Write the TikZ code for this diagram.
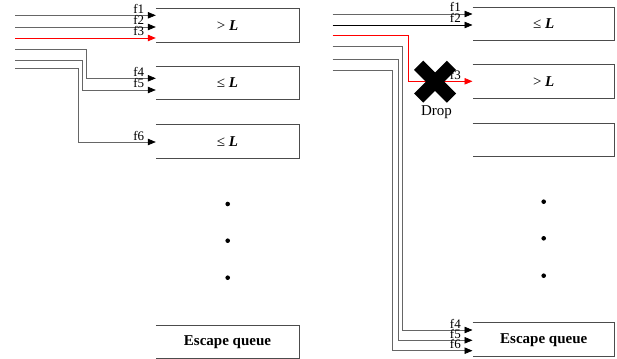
\documentclass[tikz,border=0pt]{standalone}
\usepackage{fontspec}
\setmainfont{Liberation Serif}
\usetikzlibrary{arrows.meta,calc}
\begin{document}
\begin{tikzpicture}[x=1pt,y=-1pt,
  qbox/.style={minimum width=143pt,minimum height=33pt,inner sep=0pt,font=\fontsize{15}{17}\selectfont},
  qline/.style={draw=black!70,line width=0.9pt},
  flow/.style={draw=black!60,line width=0.7pt,-{Triangle[length=8pt,width=6.5pt,color=black]}},
  blackflow/.style={flow,draw=black},
  redflow/.style={draw=red,line width=0.8pt,-{Triangle[length=8pt,width=6.5pt,color=red]}},
  lbl/.style={font=\fontsize{13}{14}\selectfont,anchor=base east,inner sep=0pt},
  dot/.style={circle,fill=black,inner sep=0pt,minimum size=4.6pt},
  xarm/.style={line width=13pt,draw=black}
]
\useasboundingbox (0,0) rectangle (617,358);

% ---------- left panel ----------
\node[qbox] (L1) at (227.5,25.5) {> \textbf{\textit{L}}};
\node[qbox] (L2) at (227.5,83) {≤ \textbf{\textit{L}}};
\node[qbox] (L3) at (227.5,141.3) {≤ \textbf{\textit{L}}};
\node[qbox] (LE) at (227.5,342.2) {\textbf{Escape queue}};
\foreach \b in {L1,L2,L3,LE}{
  \draw[qline] (\b.north west) -- (\b.north east) -- (\b.south east) -- (\b.south west);
}
\node[dot] (ld1) at (227.7,204) {};
\node[dot] (ld2) at (227.7,240.7) {};
\node[dot] (ld3) at (227.7,277.7) {};

\coordinate (s1) at (15,15.3);
\coordinate (s2) at (15,27);
\coordinate (s3) at (15,38);
\coordinate (s4) at (15,49.3);
\coordinate (s5) at (15,60.7);
\coordinate (s6) at (15,68.7);
\coordinate (le1) at ([yshift=10.2pt]L1.west);
\coordinate (le2) at ([yshift=-1.5pt]L1.west);
\coordinate (le3) at ([yshift=-12.5pt]L1.west);
\coordinate (le4) at ([yshift=4.7pt]L2.west);
\coordinate (le5) at ([yshift=-7pt]L2.west);
\coordinate (le6) at ([yshift=-0.7pt]L3.west);

\draw[flow] (s1) -- (le1);
\draw[flow] (s2) -- (le2);
\draw[redflow] (s3) -- (le3);
\draw[flow] (s4) -| ([xshift=-69.3pt]le4) -- (le4);
\draw[flow] (s5) -| ([xshift=-73.3pt]le5) -- (le5);
\draw[flow] (s6) -| ([xshift=-77.7pt]le6) -- (le6);
\node[lbl] (lf1) at ([xshift=-11.5pt,yshift=2pt]le1) {f1};
\node[lbl] (lf2) at ([xshift=-11.5pt,yshift=2pt]le2) {f2};
\node[lbl] (lf3) at ([xshift=-11.5pt,yshift=2pt]le3) {f3};
\node[lbl] (lf4) at ([xshift=-11.5pt,yshift=2pt]le4) {f4};
\node[lbl] (lf5) at ([xshift=-11.5pt,yshift=2pt]le5) {f5};
\node[lbl] (lf6) at ([xshift=-11.5pt,yshift=2pt]le6) {f6};

% ---------- right panel ----------
\node[qbox,minimum width=142pt] (R1) at (543.7,23.7) {≤ \textbf{\textit{L}}};
\node[qbox,minimum width=142pt] (R2) at (543.7,81.3) {> \textbf{\textit{L}}};
\node[qbox,minimum width=142pt] (R3) at (543.7,139.7) {};
\node[qbox,minimum width=142pt,minimum height=34pt] (RE) at (543.7,339.7) {\textbf{Escape queue}};
\foreach \b in {R1,R2,R3,RE}{
  \draw[qline] (\b.north west) -- (\b.north east) -- (\b.south east) -- (\b.south west);
}
\node[dot] (rd1) at (543.7,201.7) {};
\node[dot] (rd2) at (543.7,238.3) {};
\node[dot] (rd3) at (543.7,275.7) {};

\coordinate (t1) at (332.7,14);
\coordinate (t2) at (332.7,25);
\coordinate (t3) at (332.7,35.7);
\coordinate (t4) at (332.7,46.7);
\coordinate (t5) at (332.7,59.3);
\coordinate (t6) at (332.7,70);
\coordinate (re1) at ([yshift=9.7pt]R1.west);
\coordinate (re2) at ([yshift=-1.3pt]R1.west);
\coordinate (re3) at (R2.west);
\coordinate (re4) at ([yshift=9.7pt]RE.west);
\coordinate (re5) at ([yshift=-0.6pt]RE.west);
\coordinate (re6) at ([yshift=-11pt]RE.west);

\draw[flow] (t1) -- (re1);
\draw[blackflow] (t2) -- (re2);
\draw[redflow] (t3) -| ([xshift=-64.4pt]re3) -- (re3);
\draw[flow] (t4) -| ([xshift=-70.4pt]re4) -- (re4);
\draw[flow] (t5) -| ([xshift=-73.7pt]re5) -- (re5);
\draw[flow] (t6) -| ([xshift=-80pt]re6) -- (re6);
\node[lbl] (rf1) at ([xshift=-11.5pt,yshift=2pt]re1) {f1};
\node[lbl] (rf2) at ([xshift=-11.5pt,yshift=2pt]re2) {f2};
\node[lbl] (rf3) at ([xshift=-11.5pt,yshift=2pt]re3) {f3};
\node[lbl] (rf4) at ([xshift=-11.5pt,yshift=2pt]re4) {f4};
\node[lbl] (rf5) at ([xshift=-11.5pt,yshift=2pt]re5) {f5};
\node[lbl] (rf6) at ([xshift=-11.5pt,yshift=2pt]re6) {f6};

% drop mark
\coordinate (drop) at (435,81.7);
\draw[xarm] ([shift={(-16.4,-16.4)}]drop) -- ([shift={(16.4,16.4)}]drop);
\draw[xarm] ([shift={(-16.4,16.4)}]drop) -- ([shift={(16.4,-16.4)}]drop);
\node[font=\fontsize{15}{17}\selectfont,inner sep=0pt] (droplbl) at (436.5,112.5) {Drop};
\end{tikzpicture}
\end{document}
